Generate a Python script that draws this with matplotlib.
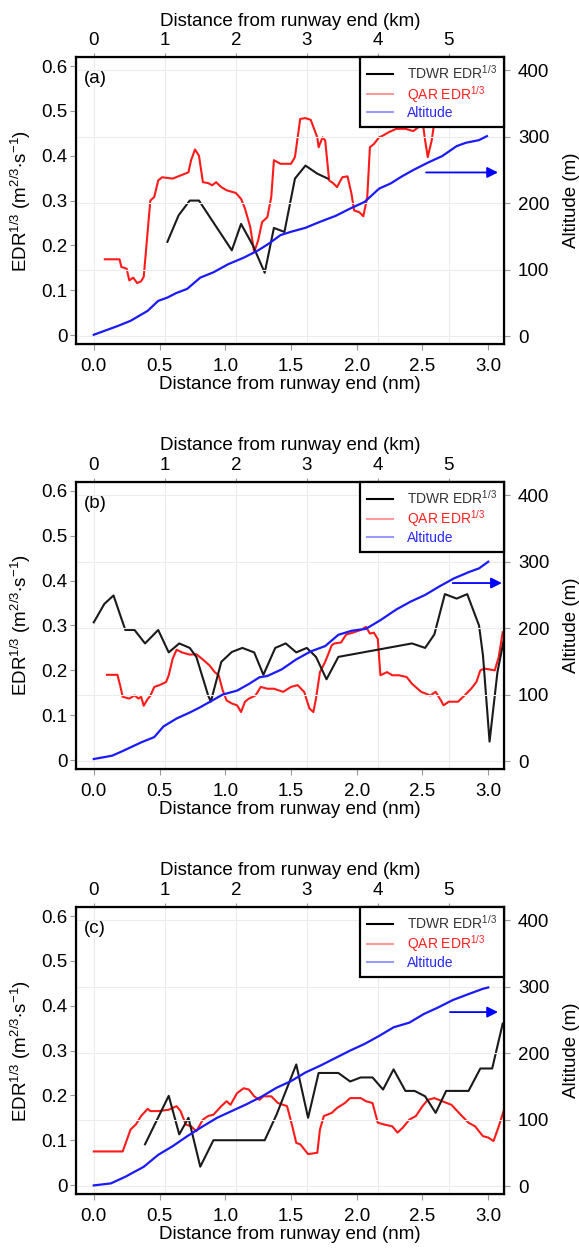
import matplotlib
matplotlib.use("Agg")
import matplotlib.pyplot as plt
from matplotlib.lines import Line2D

plt.rcParams['font.family'] = ['Liberation Sans', 'DejaVu Sans']
plt.rcParams['mathtext.default'] = 'regular'

# ============================================================
#   DATA - x in nautical miles
# ============================================================
# ---- panel (a)
a_tdwr_nm = [0.56, 0.645, 0.73, 0.80, 1.05, 1.12, 1.21, 1.30, 1.37, 1.45, 1.53, 1.61, 1.70, 1.78]
a_tdwr_edr = [0.208, 0.267, 0.30, 0.30, 0.189, 0.248, 0.20, 0.139, 0.239, 0.23, 0.349, 0.378, 0.36, 0.349]

a_qar_nm = [0.084, 0.196, 0.21, 0.25, 0.27, 0.30, 0.33, 0.36, 0.38, 0.43, 0.46, 0.49, 0.52, 0.60,
            0.66, 0.72, 0.74, 0.77, 0.80, 0.83, 0.87, 0.90, 0.93, 0.97, 1.01, 1.08, 1.12, 1.15,
            1.19, 1.22, 1.25, 1.28, 1.32, 1.35, 1.37, 1.42, 1.50, 1.53, 1.57, 1.61, 1.65, 1.70,
            1.71, 1.74, 1.76, 1.79, 1.82, 1.85, 1.89, 1.93, 1.96, 1.98, 2.02, 2.05, 2.08, 2.10,
            2.13, 2.17, 2.20, 2.24, 2.30, 2.37, 2.43, 2.47, 2.50, 2.52, 2.54, 2.57, 2.59, 2.62]
a_qar_edr = [0.169, 0.169, 0.152, 0.148, 0.122, 0.128, 0.116, 0.12, 0.13, 0.30, 0.308, 0.345, 0.352, 0.349,
             0.356, 0.363, 0.39, 0.414, 0.40, 0.341, 0.339, 0.334, 0.341, 0.33, 0.323, 0.317, 0.304, 0.282,
             0.241, 0.185, 0.211, 0.252, 0.263, 0.308, 0.39, 0.382, 0.382, 0.397, 0.482, 0.484, 0.48, 0.441,
             0.419, 0.441, 0.434, 0.345, 0.339, 0.33, 0.352, 0.354, 0.315, 0.278, 0.274, 0.265, 0.308, 0.419,
             0.426, 0.441, 0.445, 0.452, 0.46, 0.46, 0.455, 0.464, 0.478, 0.434, 0.397, 0.434, 0.475, 0.51]

a_alt_nm = [0.0, 0.18, 0.28, 0.41, 0.49, 0.56, 0.63, 0.71, 0.81, 0.91, 1.02, 1.14, 1.25, 1.33, 1.42,
            1.50, 1.61, 1.72, 1.84, 1.95, 2.06, 2.17, 2.26, 2.34, 2.43, 2.51, 2.54, 2.65, 2.76, 2.83,
            2.93, 2.99]
a_alt_m = [2, 15, 23, 38, 53, 58, 65, 71, 88, 96, 108, 118, 129, 139, 152,
           157, 163, 172, 181, 192, 202, 222, 230, 240, 250, 258, 261, 271, 286, 291,
           295, 301]

# ---- panel (b)
b_tdwr_nm = [0.0, 0.08, 0.15, 0.24, 0.31, 0.39, 0.49, 0.57, 0.65, 0.73, 0.78, 0.87, 0.89, 0.97, 1.05,
             1.13, 1.22, 1.29, 1.38, 1.46, 1.54, 1.62, 1.69, 1.77, 1.86, 2.42, 2.52, 2.59, 2.67, 2.76,
             2.84, 2.93, 2.96, 3.01, 3.07, 3.12]
b_tdwr_edr = [0.307, 0.348, 0.367, 0.29, 0.29, 0.26, 0.29, 0.24, 0.26, 0.25, 0.23, 0.144, 0.13, 0.219, 0.241,
              0.25, 0.24, 0.19, 0.25, 0.26, 0.24, 0.25, 0.23, 0.18, 0.23, 0.26, 0.25, 0.28, 0.37, 0.36,
              0.37, 0.30, 0.233, 0.041, 0.196, 0.27]

b_qar_nm = [0.10, 0.18, 0.20, 0.22, 0.27, 0.31, 0.34, 0.36, 0.38, 0.41, 0.43, 0.46, 0.50, 0.55, 0.57,
            0.60, 0.63, 0.67, 0.73, 0.78, 0.83, 0.88, 0.92, 0.95, 0.98, 1.01, 1.05, 1.09, 1.12, 1.15,
            1.18, 1.23, 1.27, 1.32, 1.37, 1.44, 1.50, 1.55, 1.60, 1.64, 1.67, 1.69, 1.72, 1.76, 1.81,
            1.83, 1.88, 1.92, 1.97, 2.03, 2.07, 2.10, 2.13, 2.16, 2.18, 2.23, 2.27, 2.32, 2.38, 2.42,
            2.49, 2.56, 2.60, 2.64, 2.66, 2.70, 2.77, 2.82, 2.87, 2.91, 2.94, 2.97, 3.05, 3.08, 3.11]
b_qar_edr = [0.19, 0.19, 0.167, 0.141, 0.137, 0.144, 0.137, 0.141, 0.121, 0.136, 0.143, 0.163, 0.167, 0.174, 0.189,
             0.226, 0.246, 0.24, 0.235, 0.236, 0.224, 0.211, 0.196, 0.189, 0.156, 0.133, 0.126, 0.122, 0.107, 0.13,
             0.137, 0.144, 0.163, 0.159, 0.159, 0.152, 0.163, 0.167, 0.152, 0.115, 0.107, 0.137, 0.196, 0.219, 0.256,
             0.26, 0.262, 0.28, 0.284, 0.29, 0.297, 0.282, 0.284, 0.27, 0.189, 0.196, 0.189, 0.189, 0.185, 0.17,
             0.152, 0.144, 0.152, 0.133, 0.122, 0.13, 0.13, 0.144, 0.159, 0.174, 0.20, 0.204, 0.20, 0.23, 0.285]

b_alt_nm = [0.0, 0.14, 0.22, 0.36, 0.46, 0.53, 0.63, 0.73, 0.81, 0.90, 0.98, 1.09, 1.18, 1.26, 1.32,
            1.43, 1.54, 1.65, 1.76, 1.86, 1.96, 2.07, 2.18, 2.30, 2.41, 2.52, 2.63, 2.74, 2.86, 2.93, 3.0]
b_alt_m = [3, 8, 15, 28, 36, 52, 64, 73, 81, 91, 100, 106, 116, 126, 128,
           138, 153, 165, 173, 190, 196, 199, 212, 228, 240, 250, 263, 275, 285, 290, 300]

# ---- panel (c)
c_tdwr_nm = [0.39, 0.57, 0.65, 0.72, 0.81, 0.91, 1.30, 1.39, 1.54, 1.63, 1.71, 1.86, 1.95, 2.03, 2.12,
             2.20, 2.28, 2.37, 2.44, 2.52, 2.60, 2.68, 2.85, 2.94, 3.03, 3.11]
c_tdwr_edr = [0.091, 0.199, 0.113, 0.15, 0.041, 0.10, 0.10, 0.157, 0.269, 0.15, 0.25, 0.25, 0.231, 0.24, 0.24,
              0.213, 0.258, 0.21, 0.21, 0.198, 0.161, 0.21, 0.21, 0.26, 0.26, 0.36]

c_qar_nm = [0.0, 0.22, 0.28, 0.32, 0.36, 0.41, 0.43, 0.49, 0.57, 0.63, 0.66, 0.70, 0.74, 0.78, 0.83,
            0.87, 0.91, 0.97, 1.01, 1.04, 1.09, 1.14, 1.18, 1.22, 1.26, 1.29, 1.35, 1.40, 1.47, 1.51,
            1.54, 1.57, 1.63, 1.70, 1.72, 1.75, 1.81, 1.85, 1.91, 1.95, 2.03, 2.07, 2.12, 2.16, 2.21,
            2.27, 2.31, 2.35, 2.40, 2.45, 2.50, 2.54, 2.59, 2.65, 2.72, 2.79, 2.85, 2.90, 2.96, 3.00,
            3.04, 3.08, 3.12]
c_qar_edr = [0.075, 0.075, 0.124, 0.135, 0.154, 0.17, 0.165, 0.165, 0.168, 0.176, 0.165, 0.135, 0.131, 0.12, 0.146,
             0.154, 0.157, 0.176, 0.187, 0.179, 0.205, 0.216, 0.213, 0.198, 0.19, 0.198, 0.198, 0.183, 0.176, 0.131,
             0.094, 0.091, 0.069, 0.072, 0.124, 0.154, 0.161, 0.172, 0.183, 0.194, 0.194, 0.187, 0.183, 0.139, 0.135,
             0.131, 0.117, 0.128, 0.146, 0.154, 0.176, 0.19, 0.194, 0.187, 0.179, 0.157, 0.139, 0.131, 0.109, 0.106,
             0.098, 0.131, 0.168]

c_alt_nm = [0.0, 0.13, 0.24, 0.38, 0.49, 0.60, 0.71, 0.83, 0.94, 1.05, 1.16, 1.28, 1.39, 1.50, 1.61,
            1.72, 1.84, 1.95, 2.06, 2.17, 2.28, 2.40, 2.51, 2.62, 2.73, 2.85, 2.96, 3.0]
c_alt_m = [1, 4, 14, 29, 47, 60, 75, 90, 103, 113, 123, 135, 148, 158, 171,
           181, 193, 204, 214, 226, 239, 246, 259, 269, 280, 289, 297, 299]

# tick labels
edr_ticks = [0, 0.1, 0.2, 0.3, 0.4, 0.5, 0.6]
edr_ticklabels = ["0", "0.1", "0.2", "0.3", "0.4", "0.5", "0.6"]
alt_ticks = [0, 100, 200, 300, 400]
nm_ticks = [0.0, 0.5, 1.0, 1.5, 2.0, 2.5, 3.0]
km_ticks = [0, 1, 2, 3, 4, 5]

NM_TO_KM = 1.852


def nm_to_km(x):
    return x * NM_TO_KM


def km_to_nm(x):
    return x / NM_TO_KM


# ============================================================
#   ONE PANEL
# ============================================================
def draw_panel(fig, rect, tag, tdwr, qar, alt, arrow_y, arrow_x):
    ax = fig.add_axes(rect)
    ax2 = ax.twinx()

    ax.set_xlim(-0.135, 3.12)
    ax.set_ylim(-0.02, 0.62)
    ax2.set_ylim(-12, 420)

    # faint grid (km and altitude)
    for k in km_ticks:
        ax.axvline(km_to_nm(k), color="#ececec", lw=0.8, zorder=0)
    for a in alt_ticks:
        ax2.axhline(a, color="#ececec", lw=0.8, zorder=0)

    ax.plot(qar[0], qar[1], color="#ff1a1a", lw=1.5, zorder=3)
    ax.plot(tdwr[0], tdwr[1], color="#1a1a1a", lw=1.5, zorder=4)
    ax2.plot(alt[0], alt[1], color="#1a1aff", lw=1.6, zorder=3)

    ax.set_yticks(edr_ticks)
    ax.set_yticklabels(edr_ticklabels)
    ax.set_xticks(nm_ticks)
    ax.set_xticklabels([f"{t:.1f}" for t in nm_ticks])
    ax2.set_yticks(alt_ticks)

    ax.tick_params(axis="both", labelsize=13.5, length=4, color="#999999")
    ax.tick_params(axis="y", pad=2)
    ax.tick_params(axis="x", pad=6)
    ax2.tick_params(axis="y", labelsize=13.5, length=4, color="#999999", pad=6)

    ax.set_xlabel("Distance from runway end (nm)", fontsize=13.5, labelpad=1)
    ax.set_ylabel("EDR$^{1/3}$ (m$^{2/3}$$\\cdot$s$^{-1}$)", fontsize=13.5, labelpad=6)
    ax2.set_ylabel("Altitude (m)", fontsize=13.5, labelpad=10)

    top = ax.secondary_xaxis("top", functions=(nm_to_km, km_to_nm))
    top.set_xticks(km_ticks)
    top.tick_params(labelsize=13.5, length=3, color="#999999", pad=2.5)
    top.set_xlabel("Distance from runway end (km)", fontsize=13.5, labelpad=5)

    for sp in ax2.spines.values():
        sp.set_linewidth(1.6)
        sp.set_color("black")
    top.spines["top"].set_visible(False)

    ax.text(0.018, 0.925, tag, transform=ax.transAxes, fontsize=13.5,
            ha="left", va="center")

    ax2.annotate("", xy=(arrow_x[1], arrow_y), xytext=(arrow_x[0], arrow_y),
                 xycoords="axes fraction", textcoords="axes fraction",
                 arrowprops=dict(arrowstyle="-|>", color="#0000ff", lw=1.3,
                                 mutation_scale=16, shrinkA=0, shrinkB=0))

    handles = [Line2D([], [], color="black", lw=1.5),
               Line2D([], [], color="#ff9a9a", lw=1.5),
               Line2D([], [], color="#9a9aff", lw=1.5)]
    labels = ["TDWR EDR$^{1/3}$", "QAR EDR$^{1/3}$", "Altitude"]
    leg = ax2.legend(handles, labels, loc="upper right", bbox_to_anchor=(1.0, 1.0),
                     borderaxespad=0, fontsize=10, handlelength=1.9,
                     handletextpad=1.0, labelspacing=0.12, borderpad=0.5,
                     fancybox=False, framealpha=1, edgecolor="black")
    leg.get_frame().set_linewidth(1.6)
    for txt, col in zip(leg.get_texts(), ["#333333", "#ff2020", "#2a2aff"]):
        txt.set_color(col)
    leg.set_zorder(10)
    return ax


# ============================================================
#   MAIN
# ============================================================
def main():
    fig = plt.figure(figsize=(5.79, 12.52), dpi=100)
    left, width, height = 0.1313, 0.7392, 0.2292

    draw_panel(fig, [left, 0.7252, width, height], "(a)",
               (a_tdwr_nm, a_tdwr_edr), (a_qar_nm, a_qar_edr), (a_alt_nm, a_alt_m),
               0.598, (0.818, 0.986))
    draw_panel(fig, [left, 0.3858, width, height], "(b)",
               (b_tdwr_nm, b_tdwr_edr), (b_qar_nm, b_qar_edr), (b_alt_nm, b_alt_m),
               0.648, (0.88, 0.995))
    draw_panel(fig, [left, 0.0463, width, height], "(c)",
               (c_tdwr_nm, c_tdwr_edr), (c_qar_nm, c_qar_edr), (c_alt_nm, c_alt_m),
               0.634, (0.874, 0.986))

    fig.savefig("out.png", dpi=100)


if __name__ == "__main__":
    main()
